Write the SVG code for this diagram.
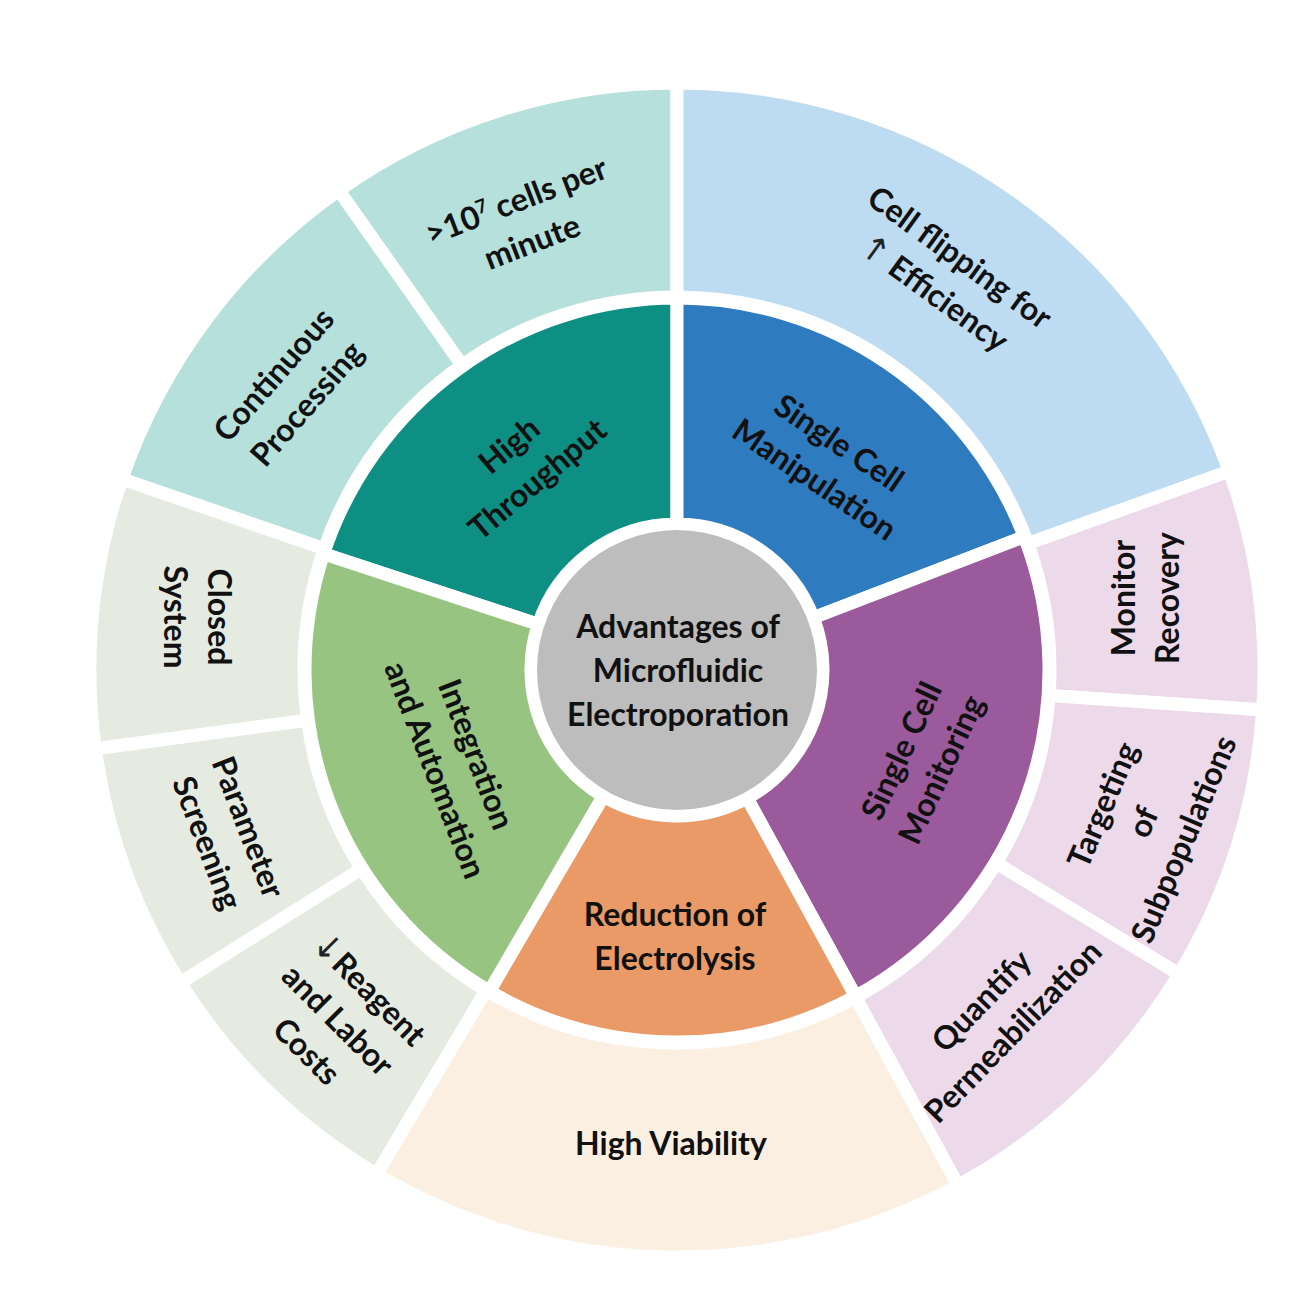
<svg xmlns="http://www.w3.org/2000/svg" width="1313" height="1313" viewBox="0 0 1313 1313">
<style>
.seg{stroke:#ffffff;stroke-width:13;stroke-linejoin:miter}
.lbl{font-family:Lato,"Liberation Sans","DejaVu Sans",sans-serif;font-weight:700;font-size:32px;fill:#111111;text-anchor:middle}
.arr{font-family:"DejaVu Sans",sans-serif;font-weight:400;font-size:34px;fill:#222222}
.lteal{fill:#b6e0db}.lblue{fill:#bddcf1}.lpink{fill:#ecd9ea}.lpeach{fill:#fbefe1}.lgreen{fill:#e5ebe1}
</style>
<rect width="1313" height="1313" fill="#ffffff"/>
<g id="outer-ring">
<g id="cells-per-minute"><path class="seg lteal" d="M462.0 365.2 L338.7 190.4 A587 587 0 0 1 677 83 L677 297 A373 373 0 0 0 462.0 365.2 Z"/>
<text class="lbl" transform="translate(524,221) rotate(-21)"><tspan x="0" y="-10.5">&gt;10<tspan dy="-12" font-size="19">7</tspan><tspan dy="12"> cells per</tspan></tspan><tspan x="0" y="33.5">minute</tspan></text></g>
<g id="cell-flipping"><path class="seg lblue" d="M677 297 L677 83 A587 587 0 0 1 1229.3 471.2 L1027.9 543.7 A373 373 0 0 0 677 297 Z"/>
<text class="lbl" transform="translate(947,275) rotate(36)"><tspan x="0" y="-10.5">Cell flipping for</tspan><tspan x="0" y="33.5"><tspan class="arr">↑</tspan> Efficiency</tspan></text></g>
<g id="monitor-recovery"><path class="seg lpink" d="M1027.9 543.7 L1229.3 471.2 A587 587 0 0 1 1262.6 709.9 L1049.1 695.4 A373 373 0 0 0 1027.9 543.7 Z"/>
<text class="lbl" transform="translate(1145,598) rotate(-90)"><tspan x="0" y="-10.5">Monitor</tspan><tspan x="0" y="33.5">Recovery</tspan></text></g>
<g id="targeting"><path class="seg lpink" d="M1049.1 695.4 L1262.6 709.9 A587 587 0 0 1 1179.1 974.1 L996.1 863.2 A373 373 0 0 0 1049.1 695.4 Z"/>
<text class="lbl" transform="translate(1143,822) rotate(-67)"><tspan x="0" y="-32.5">Targeting</tspan><tspan x="0" y="11.5">of</tspan><tspan x="0" y="55.5">Subpopulations</tspan></text></g>
<g id="quantify"><path class="seg lpink" d="M996.1 863.2 L1179.1 974.1 A587 587 0 0 1 958.0 1185.4 L855.6 997.5 A373 373 0 0 0 996.1 863.2 Z"/>
<text class="lbl" transform="translate(997,1016) rotate(-46)"><tspan x="0" y="-10.5">Quantify</tspan><tspan x="0" y="33.5">Permeabilization</tspan></text></g>
<g id="high-viability"><path class="seg lpeach" d="M855.6 997.5 L958.0 1185.4 A587 587 0 0 1 376.5 1174.2 L486.0 990.4 A373 373 0 0 0 855.6 997.5 Z"/>
<text class="lbl" x="671" y="1154.5">High Viability</text></g>
<g id="reagent"><path class="seg lgreen" d="M486.0 990.4 L376.5 1174.2 A587 587 0 0 1 180.3 982.8 L361.4 868.8 A373 373 0 0 0 486.0 990.4 Z"/>
<text class="lbl" transform="translate(338,1020) rotate(45)"><tspan x="0" y="-32.5"><tspan class="arr">↓</tspan>Reagent</tspan><tspan x="0" y="11.5">and Labor</tspan><tspan x="0" y="55.5">Costs</tspan></text></g>
<g id="parameter-screening"><path class="seg lgreen" d="M361.4 868.8 L180.3 982.8 A587 587 0 0 1 95.3 748.7 L307.4 720.0 A373 373 0 0 0 361.4 868.8 Z"/>
<text class="lbl" transform="translate(228,835) rotate(69)"><tspan x="0" y="-10.5">Parameter</tspan><tspan x="0" y="33.5">Screening</tspan></text></g>
<g id="closed-system"><path class="seg lgreen" d="M307.4 720.0 L95.3 748.7 A587 587 0 0 1 122.0 478.9 L324.3 548.6 A373 373 0 0 0 307.4 720.0 Z"/>
<text class="lbl" transform="translate(197,617) rotate(90)"><tspan x="0" y="-10.5">Closed</tspan><tspan x="0" y="33.5">System</tspan></text></g>
<g id="continuous-processing"><path class="seg lteal" d="M324.3 548.6 L122.0 478.9 A587 587 0 0 1 338.7 190.4 L462.0 365.2 A373 373 0 0 0 324.3 548.6 Z"/>
<text class="lbl" transform="translate(290,389) rotate(-49)"><tspan x="0" y="-10.5">Continuous</tspan><tspan x="0" y="33.5">Processing</tspan></text></g>
</g>
<g id="inner-ring">
<g id="high-throughput"><path class="seg" fill="#0d9083" d="M538.3 624.4 L323.6 553.8 A372 372 0 0 1 677 298 L677 524 A146 146 0 0 0 538.3 624.4 Z"/>
<text class="lbl" transform="translate(523,462) rotate(-40)"><tspan x="0" y="-10.5">High</tspan><tspan x="0" y="33.5">Throughput</tspan></text></g>
<g id="single-cell-manipulation"><path class="seg" fill="#2f7bc0" d="M677 524 L677 298 A372 372 0 0 1 1024.3 536.7 L813.3 617.7 A146 146 0 0 0 677 524 Z"/>
<text class="lbl" transform="translate(827,461) rotate(34)"><tspan x="0" y="-10.5">Single Cell</tspan><tspan x="0" y="33.5">Manipulation</tspan></text></g>
<g id="single-cell-monitoring"><path class="seg" fill="#9a5a9b" d="M813.3 617.7 L1024.3 536.7 A372 372 0 0 1 855.6 996.3 L747.1 798.1 A146 146 0 0 0 813.3 617.7 Z"/>
<text class="lbl" transform="translate(921,760) rotate(-65)"><tspan x="0" y="-10.5">Single Cell</tspan><tspan x="0" y="33.5">Monitoring</tspan></text></g>
<g id="reduction-electrolysis"><path class="seg" fill="#e99a66" d="M747.1 798.1 L855.6 996.3 A372 372 0 0 1 489.3 991.2 L603.3 796.1 A146 146 0 0 0 747.1 798.1 Z"/>
<text class="lbl" transform="translate(675,936)"><tspan x="0" y="-10.5">Reduction of</tspan><tspan x="0" y="33.5">Electrolysis</tspan></text></g>
<g id="integration-automation"><path class="seg" fill="#97c581" d="M603.3 796.1 L489.3 991.2 A372 372 0 0 1 323.6 553.8 L538.3 624.4 A146 146 0 0 0 603.3 796.1 Z"/>
<text class="lbl" transform="translate(456,762) rotate(69)"><tspan x="0" y="-10.5">Integration</tspan><tspan x="0" y="33.5">and Automation</tspan></text></g>
</g>
<g id="center">
<circle cx="677" cy="670" r="140" fill="#bdbdbd"/>
<text class="lbl" transform="translate(678,670)"><tspan x="0" y="-32.5">Advantages of</tspan><tspan x="0" y="11.5">Microfluidic</tspan><tspan x="0" y="55.5">Electroporation</tspan></text>
</g>
<g id="connectors"/>
</svg>
